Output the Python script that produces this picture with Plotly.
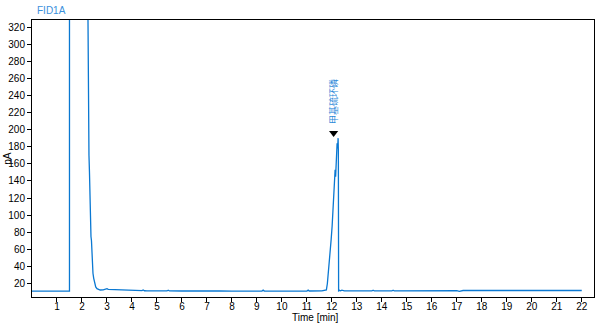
import plotly.graph_objects as go

# Chromatogram trace (time in min, signal in pA)
time_min = [0.0, 1.50, 1.50, 2.20, 2.24, 2.245, 2.25, 2.255, 2.26, 2.27, 2.28, 2.30, 2.32, 2.34, 2.36, 2.38,
            2.40, 2.42, 2.44, 2.47, 2.50, 2.55, 2.60, 2.66, 2.73, 2.85, 2.95, 3.00, 3.05, 3.20,
            3.35, 3.60, 4.00, 4.40, 4.45, 4.50, 4.60, 5.00, 5.40, 5.45, 5.50, 6.00, 6.75, 6.80,
            6.85, 7.50, 8.00, 9.20, 9.25, 9.30, 10.00, 11.00, 11.05, 11.10, 11.60, 11.70, 11.78,
            11.82, 11.86, 11.89, 11.93, 11.97, 12.01, 12.05, 12.09, 12.13, 12.15, 12.17, 12.19,
            12.21, 12.23, 12.25, 12.26, 12.27, 12.30, 12.35, 12.40, 12.50, 12.80, 13.00, 13.60,
            13.65, 13.70, 14.40, 14.45, 14.50, 14.80, 14.85, 14.90, 15.60, 15.70, 15.80, 16.00,
            16.40, 16.45, 16.60, 16.65, 16.90, 17.00, 17.10, 17.20, 17.25, 18.00, 20.00, 22.00]
signal_pa = [11.0, 11.0, 400.0, 400.0, 330.0, 296.0, 320.0, 260.0, 230.0, 196.0, 170.0, 150.0, 112.0, 118.0, 75.0, 70.0,
             48.0, 44.0, 32.0, 26.0, 20.0, 16.0, 14.0, 13.0, 12.4, 12.6, 13.2, 14.0, 13.2, 13.0,
             12.5, 12.0, 11.8, 11.6, 12.4, 11.5, 11.4, 11.3, 11.3, 12.2, 11.3, 11.2, 11.2, 12.0,
             11.2, 11.2, 11.1, 11.1, 12.2, 11.1, 11.1, 11.2, 12.2, 11.2, 11.3, 12.0, 12.5,
             20.0, 32.0, 40.0, 51.0, 71.0, 87.0, 106.0, 126.0, 153.0, 145.0, 169.0, 160.0,
             184.0, 178.0, 190.0, 175.0, 11.5, 12.0, 11.5, 12.2, 11.4, 11.3, 11.3, 11.3,
             12.2, 11.3, 11.3, 12.2, 11.3, 11.3, 12.0, 11.3, 11.3, 12.0, 11.3, 11.3,
             11.3, 12.0, 11.3, 12.0, 11.3, 11.6, 10.8, 11.6, 11.8, 11.8, 11.8, 11.8]

# Peak label
peak_name = "甲基硫环磷"
peak_time = 12.07
peak_marker_pa = 196.0
peak_label_pa = 233.0

# Axis ticks
x_ticks = list(range(1, 23))
y_ticks = list(range(20, 321, 20))

line_color = "#0a78d2"

fig = go.Figure()
fig.add_trace(go.Scatter(x=time_min, y=signal_pa, mode="lines",
                         line=dict(color=line_color, width=1.3), showlegend=False,
                         hoverinfo="skip"))
fig.add_trace(go.Scatter(x=[peak_time], y=[peak_marker_pa], mode="markers",
                         marker=dict(symbol="triangle-down", size=8, color="black"),
                         showlegend=False, hoverinfo="skip"))

fig.add_annotation(x=peak_time, y=peak_label_pa, xref="x", yref="y", text=peak_name,
                   textangle=-90, showarrow=False,
                   font=dict(family="Noto Sans CJK SC", size=9, color="#2a88d8"))

fig.add_annotation(x=0.0053, y=1.0325, xref="paper", yref="paper", text="FID1A",
                   xanchor="left", yanchor="middle", showarrow=False,
                   font=dict(family="Liberation Sans, Arial", size=10, color="#3a90dc"))
fig.add_annotation(x=-0.043, y=0.502, xref="paper", yref="paper", text="pA",
                   textangle=-90, xanchor="center", yanchor="middle", showarrow=False,
                   font=dict(family="Liberation Sans, Arial", size=10, color="black"))
fig.add_annotation(x=0.5036, y=-0.0745, xref="paper", yref="paper", text="Time [min]",
                   xanchor="center", yanchor="middle", showarrow=False,
                   font=dict(family="Liberation Sans, Arial", size=10, color="black"))

axis_common = dict(showgrid=False, zeroline=False, showline=True, linecolor="black",
                   linewidth=1, mirror=True, ticks="outside", ticklen=4, tickcolor="black",
                   tickfont=dict(family="Liberation Sans, Arial", size=10, color="black"))

fig.update_xaxes(range=[0, 22.49], tickmode="array", tickvals=x_ticks,
                 ticktext=[str(t) for t in x_ticks], ticklabelstandoff=-4, **axis_common)
fig.update_yaxes(range=[4.2, 328.2], tickmode="array", tickvals=y_ticks,
                 ticktext=[str(t) for t in y_ticks], **axis_common)

fig.update_layout(width=600, height=325, margin=dict(l=32, r=6, t=20, b=28),
                  paper_bgcolor="white", plot_bgcolor="white")

fig.write_html("out.html")
